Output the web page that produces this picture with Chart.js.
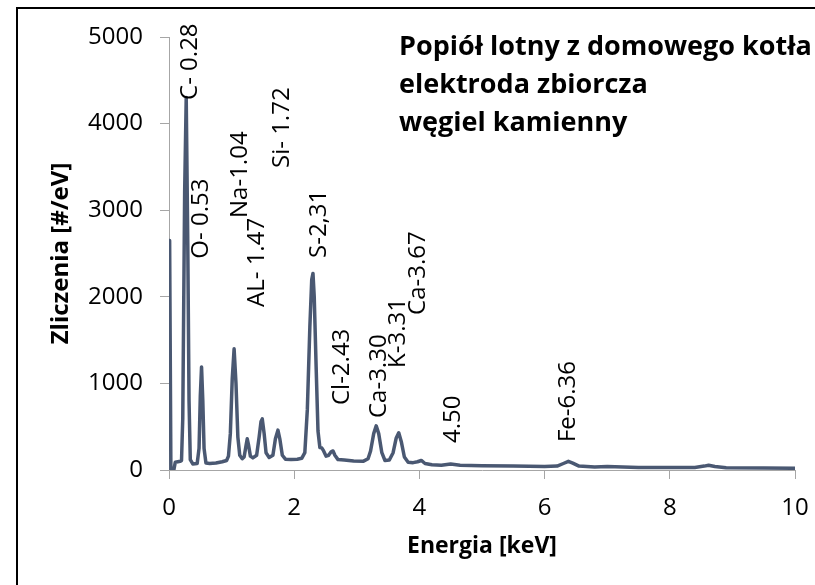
<!DOCTYPE html>
<html lang="pl">
<head>
<meta charset="utf-8">
<title>Widmo EDS</title>
<script src="https://cdn.jsdelivr.net/npm/chart.js@4.4.1/dist/chart.umd.min.js"></script>
<style>
  html, body { margin: 0; padding: 0; background: #fff; }
  #wrap { width: 815px; height: 585px; }
</style>
</head>
<body>
<div id="wrap"><canvas id="eds" width="815" height="585"></canvas></div>
<script>
const FONT = "'Open Sans', 'Noto Sans', sans-serif";

// spectrum: energy [keV] and counts [#/eV]
const energy = [
  0.01, 0.03, 0.08, 0.10, 0.18, 0.20, 0.22, 0.25, 0.275, 0.30, 0.32, 0.34, 0.38,
  0.45, 0.48, 0.50, 0.52, 0.54, 0.56, 0.59, 0.65, 0.75, 0.85, 0.92,
  0.95, 0.98, 1.01, 1.04, 1.07, 1.10, 1.13, 1.17, 1.20, 1.23, 1.25, 1.27, 1.30, 1.34,
  1.40, 1.44, 1.47, 1.49, 1.52, 1.55, 1.60, 1.66, 1.70, 1.74, 1.77, 1.81, 1.86,
  1.95, 2.05, 2.12, 2.17, 2.21, 2.25, 2.28, 2.30, 2.32, 2.35, 2.38, 2.41, 2.44,
  2.47, 2.51, 2.55, 2.59, 2.62, 2.65, 2.70, 2.80, 2.95, 3.10, 3.18,
  3.22, 3.27, 3.31, 3.35, 3.40, 3.45, 3.52, 3.58, 3.63, 3.67, 3.71, 3.76, 3.82, 3.90,
  3.97, 4.03, 4.09, 4.20, 4.35, 4.50, 4.65, 5.00, 5.50, 6.00, 6.20, 6.30, 6.38,
  6.45, 6.55, 6.80, 7.00, 7.50, 8.00, 8.40, 8.55, 8.62, 8.72, 8.90, 9.50, 10.00
];
const counts = [
  2650, 10, 10, 90, 100, 110, 600, 3200, 4300, 2600, 800, 120, 70,
  75, 250, 850, 1190, 800, 250, 80, 75, 80, 95, 110,
  160, 420, 1050, 1400, 1000, 380, 170, 130, 150, 280, 360, 290, 160, 140,
  170, 380, 560, 590, 420, 200, 145, 170, 360, 460, 360, 170, 125,
  120, 125, 135, 200, 700, 1650, 2200, 2270, 2000, 1200, 450, 260, 255,
  220, 160, 170, 210, 220, 170, 120, 115, 105, 100, 130,
  220, 420, 510, 420, 200, 110, 115, 200, 370, 430, 330, 150, 90, 85,
  95, 110, 75, 60, 55, 68, 55, 50, 45, 40, 45, 75, 100,
  80, 45, 35, 40, 30, 28, 30, 45, 55, 40, 25, 22, 20
];

// peak labels, anchored at the start (lower end) of the rotated text
const peakLabels = ["C- 0.28", "O- 0.53", "Na-1.04", "AL- 1.47", "Si- 1.72", "S-2,31",
  "Cl-2.43", "Ca-3.30", "K-3.31", "Ca-3.67", "4.50", "Fe-6.36"];
const labelKeV = [0.335, 0.51, 1.134, 1.406, 1.805, 2.396, 2.764, 3.355, 3.658, 3.978, 4.537, 6.374];
const labelCount = [4273, 2440, 2910, 1882, 3487, 2448, 750, 600, 1178, 1790, 312, 323];

const titleLines = ["Popiół lotny z domowego kotła", "elektroda zbiorcza", "węgiel kamienny"];

const xTicks = [0, 2, 4, 6, 8, 10];
const yTicks = [0, 1000, 2000, 3000, 4000, 5000];

const overlay = {
  id: "overlay",
  beforeDraw(chart) {
    const ctx = chart.ctx;
    ctx.save();
    ctx.fillStyle = "#fff";
    ctx.fillRect(0, 0, chart.width, chart.height);
    ctx.restore();
  },
  afterDraw(chart) {
    const ctx = chart.ctx;
    const xs = chart.scales.x;
    const ys = chart.scales.y;
    ctx.save();

    // outer frame (runs off the right and bottom edge)
    ctx.strokeStyle = "#000";
    ctx.lineWidth = 2;
    ctx.strokeRect(17, 8, 1000, 1000);

    // rotated peak labels
    ctx.fillStyle = "#000";
    ctx.font = `24px ${FONT}`;
    ctx.textAlign = "left";
    ctx.textBaseline = "middle";
    peakLabels.forEach((t, i) => {
      const px = xs.getPixelForValue(labelKeV[i]);
      const py = ys.getPixelForValue(labelCount[i]);
      ctx.save();
      ctx.translate(px, py);
      ctx.rotate(-Math.PI / 2);
      ctx.fillText(t, 0, 0);
      ctx.restore();
    });

    // title block
    ctx.font = `bold 27px ${FONT}`;
    ctx.textBaseline = "alphabetic";
    titleLines.forEach((t, i) => ctx.fillText(t, 399, 55 + i * 38));
    ctx.restore();
  },
};

const axisGrid = { drawOnChartArea: false, drawTicks: true, tickLength: 9, color: "#a6a6a6", lineWidth: 1 };
const plain = (v) => String(v);

new Chart(document.getElementById("eds"), {
  type: "line",
  data: {
    datasets: [{
      data: energy.map((e, i) => ({ x: e, y: counts[i] })),
      borderColor: "#4a5872",
      borderWidth: 3.5,
      borderJoinStyle: "round",
      borderCapStyle: "round",
      pointRadius: 0,
      tension: 0,
      fill: false,
    }],
  },
  options: {
    responsive: false,
    animation: false,
    devicePixelRatio: 1,
    layout: { padding: { top: 37, right: 20, bottom: 0, left: 0 } },
    plugins: { legend: { display: false }, tooltip: { enabled: false } },
    scales: {
      x: {
        type: "linear",
        min: 0,
        max: 10,
        afterBuildTicks: (s) => { s.ticks = xTicks.map((v) => ({ value: v })); },
        afterFit: (s) => {
          s.height = 115;
          s.paddingLeft = 0;
          s.paddingRight = 0;
        },
        ticks: { color: "#000", padding: 15, callback: plain, font: { family: FONT, size: 24 } },
        grid: axisGrid,
        border: { color: "#a6a6a6", width: 1 },
        title: {
          display: true,
          text: "Energia [keV]",
          color: "#000",
          font: { family: FONT, size: 23, weight: "bold" },
          padding: { top: 0, bottom: 25 },
        },
      },
      y: {
        min: 0,
        max: 5000,
        afterBuildTicks: (s) => { s.ticks = yTicks.map((v) => ({ value: v })); },
        afterFit: (s) => {
          s.width = 169;
          s.paddingTop = 0;
          s.paddingBottom = 0;
        },
        ticks: { color: "#000", padding: 17, callback: plain, font: { family: FONT, size: 24 } },
        grid: axisGrid,
        border: { color: "#a6a6a6", width: 1 },
        title: {
          display: true,
          text: "Zliczenia [#/eV]",
          color: "#000",
          font: { family: FONT, size: 24, weight: "bold" },
          padding: { top: 47, bottom: 0 },
        },
      },
    },
  },
  plugins: [overlay],
});
</script>
</body>
</html>
